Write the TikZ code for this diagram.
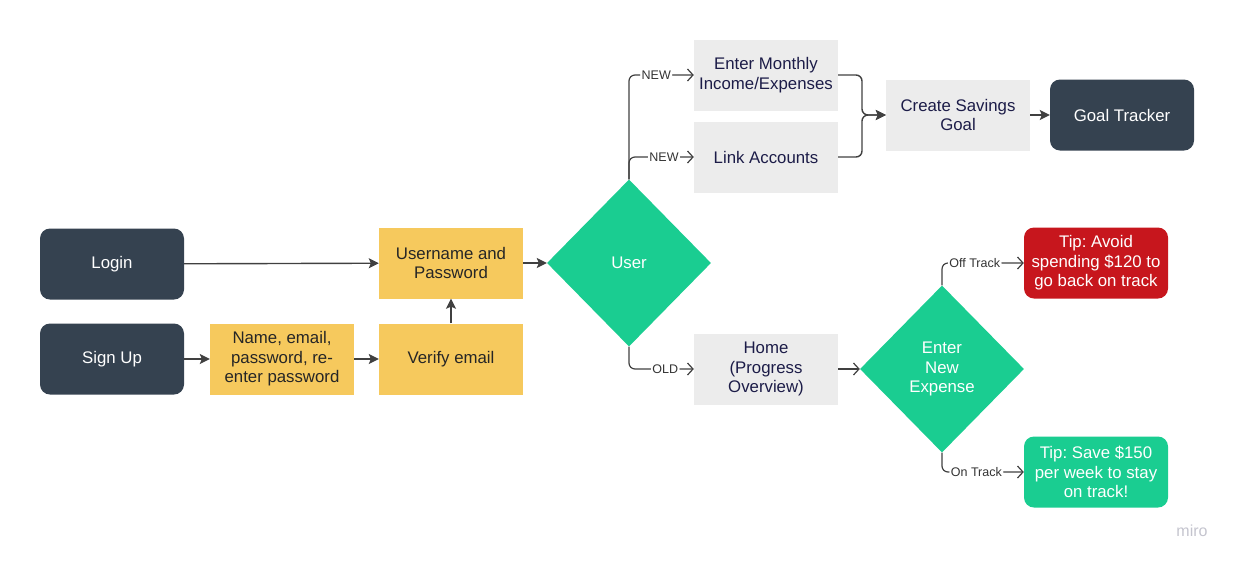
\documentclass[tikz,border=0pt]{standalone}
\usepackage{fontspec}
\setmainfont{Liberation Sans}
\usetikzlibrary{arrows.meta,shapes.geometric,positioning}
\definecolor{slate}{RGB}{53,66,80}
\definecolor{sand}{RGB}{246,201,93}
\definecolor{pale}{RGB}{236,236,236}
\definecolor{mint}{RGB}{26,205,145}
\definecolor{alarm}{RGB}{199,22,29}
\definecolor{ink}{RGB}{28,28,72}
\definecolor{wirec}{RGB}{64,64,64}
\definecolor{mirogray}{RGB}{196,196,206}
\frenchspacing

\begin{document}
\begin{tikzpicture}[x=1pt,y=-1pt]
\tikzset{box/.style={minimum width=144pt,minimum height=71pt,inner sep=0pt,align=center,font=\fontsize{16.8}{19.5}\selectfont},
  dark/.style={box,fill=slate,rounded corners=10pt,text=white},
  todo/.style={box,fill=sand,text=black!85},
  page/.style={box,fill=pale,text=ink},
  tip/.style={box,rounded corners=10pt,text=white},
  choice/.style={diamond,fill=mint,text=white,minimum width=164pt,minimum height=167pt,inner sep=0pt,align=center,font=\fontsize{16.8}{19.5}\selectfont},
  flow/.style={draw=wirec,line width=1.4pt,-{Stealth[length=10pt,width=10pt,inset=2pt]}},
  wire/.style={draw=wirec,line width=1.2pt,rounded corners=6pt,-{Straight Barb[length=5.5pt,width=12pt]}},
  tag/.style={fill=white,inner sep=1.5pt,text=black!80,font=\fontsize{12.5}{14}\selectfont}}
\useasboundingbox (0,0) rectangle (1240,566);

% sign in side
\node[dark] (login) at (112,264) {Login};
\node[dark] (signup) at (112,359) {Sign Up};
\node[todo] (form) at (282,359) {Name, email,\\password, re-\\enter password};
\node[todo] (verify) at (451,359) {Verify email};
\node[todo] (cred) at (451,263) {Username and\\Password};
\node[choice] (user) at (629,263) {User};

% new users
\node[page] (income) at (766,75) {Enter Monthly\\Income/Expenses};
\node[page] (link) at (766,157) {Link Accounts};
\node[page] (goal) at (958,115) {Create Savings\\Goal};
\node[dark] (tracker) at (1122,115) {Goal Tracker};
\coordinate (merge) at (862,115);

% old users
\node[page] (home) at (766,369) {Home\\(Progress\\Overview)};
\node[choice] (expense) at (942,369) {Enter\\New\\Expense};
\node[tip,fill=alarm] (off) at (1096,263) {Tip: Avoid\\spending \$120 to\\go back on track};
\node[tip,fill=mint] (on) at (1096,472) {Tip: Save \$150\\per week to stay\\on track!};

\node[text=mirogray,font=\fontsize{16}{18}\selectfont] (miro) at (1192,531) {miro};

\draw[flow] (login) -- (cred);
\draw[flow] (signup) -- (form);
\draw[flow] (form) -- (verify);
\draw[flow] (verify) -- (cred);
\draw[flow] (cred) -- (user);

\draw[wire] (user.north) |- node[tag,pos=0.71] {NEW} (income.west);
\draw[wire] (user.north) |- node[tag,pos=0.77] {NEW} (link.west);
\draw[wire] (user.south) |- node[tag,pos=0.78] {OLD} (home.west);

\draw[flow,rounded corners=6pt] (income.east) -| (merge) -- (goal.west);
\draw[flow,rounded corners=6pt] (link.east) -| (merge) -- (goal.west);
\draw[flow] (goal) -- (tracker);

\draw[wire] (home) -- (expense);
\draw[wire] (expense.north) |- node[tag,pos=0.70] {Off Track} (off.west);
\draw[wire] (expense.south) |- node[tag,pos=0.71] {On Track} (on.west);
\end{tikzpicture}
\end{document}
